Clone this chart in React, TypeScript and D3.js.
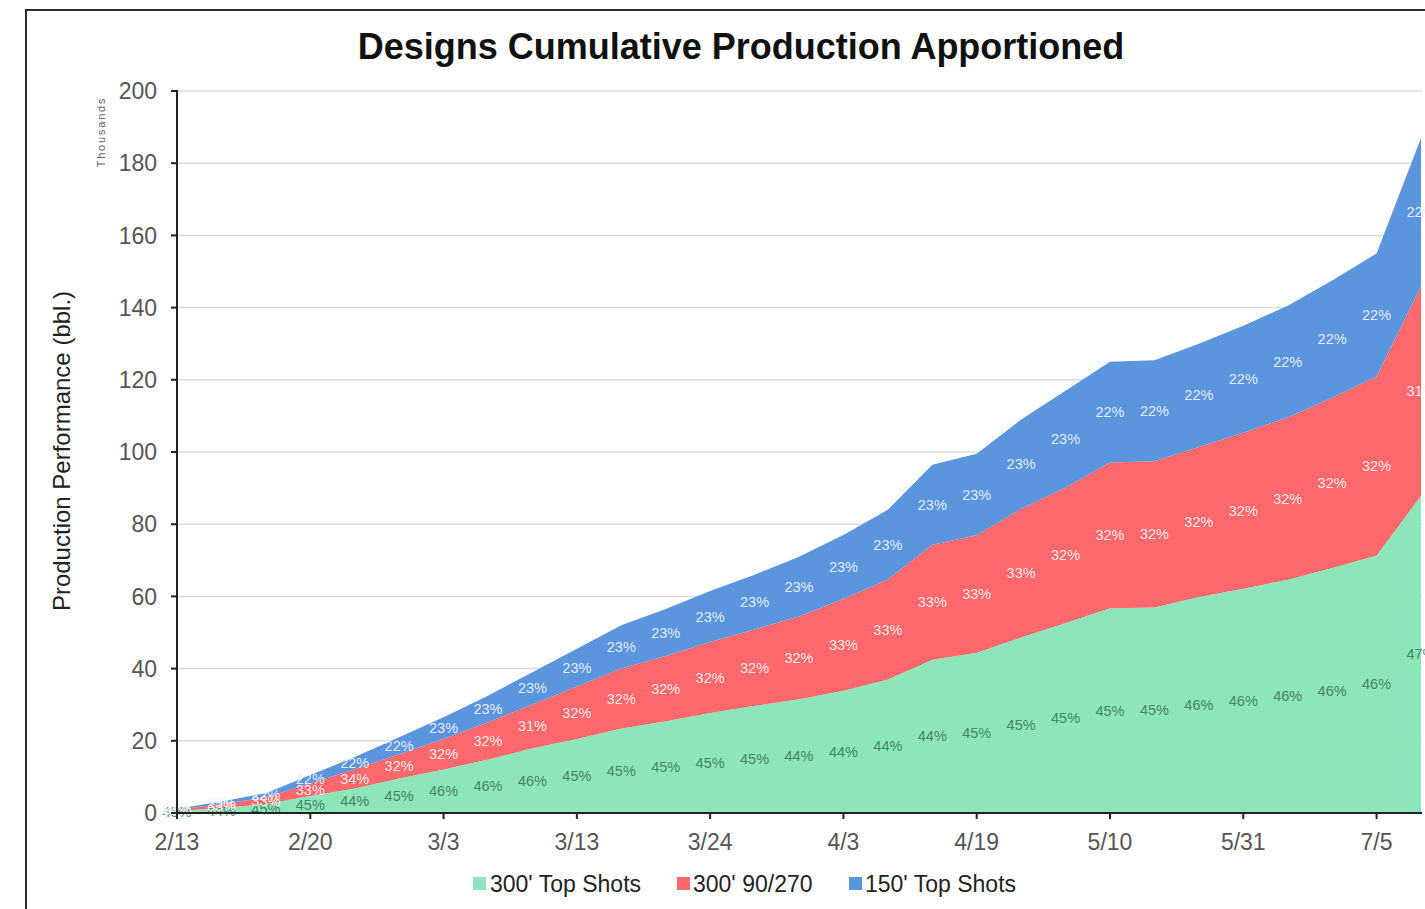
import React from "react";
import * as d3 from "d3";

// Cumulative production (bbl) per design, one reading per interval
const topShots300: number[] = [540, 1408, 2475, 4725, 6820, 9534, 12084, 14820, 17940, 20475, 23400, 25425, 27675, 29700, 31524, 33880, 36960, 42460, 44377, 48614, 52650, 56750, 56932, 59800, 62100, 64630, 67850, 71300, 87890];
const ninety270: number[] = [372, 1056, 1815, 3465, 5270, 6762, 8427, 10335, 12090, 14560, 16640, 18080, 19680, 21120, 22933, 25410, 27720, 31845, 32537, 35643, 37440, 40375, 40504, 41600, 43200, 44960, 47200, 49600, 57970];
const topShots150: number[] = [288, 736, 1210, 2310, 3410, 4704, 5989, 7345, 8970, 10465, 11960, 12995, 14145, 15180, 16543, 17710, 19320, 22195, 22586, 24743, 26910, 27875, 27964, 28600, 29700, 30910, 32450, 34100, 41140];

const tickLabels: string[] = ["2/13", "2/20", "3/3", "3/13", "3/24", "4/3", "4/19", "5/10", "5/31", "7/5"];
const tickEvery = 3;
const yTicks: number[] = [0, 20, 40, 60, 80, 100, 120, 140, 160, 180, 200];

const seriesNames = ["300' Top Shots", "300' 90/270", "150' Top Shots"];
const seriesKeys = ["a", "b", "c"];
const fills = ["#8de6b9", "#fd686c", "#5b95dd"];
const labelColors = ["#3f7d5e", "#fff2f2", "#eef4ff"];

const W = 1425;
const H = 909;
const left = 177;
const right = 1421;
const top = 91;
const bottom = 813;

export default function App() {
  const rows = topShots300.map((v, i) => ({
    i,
    a: v / 1000,
    b: ninety270[i] / 1000,
    c: topShots150[i] / 1000,
  }));
  const stacked = d3.stack<any>().keys(seriesKeys)(rows);

  const x = d3.scaleLinear().domain([0, rows.length - 1]).range([left, right]);
  const y = d3.scaleLinear().domain([0, 200]).range([bottom, top]);

  const area = d3
    .area<any>()
    .x((d: any) => x(d.data.i))
    .y0((d: any) => y(d[0]))
    .y1((d: any) => y(d[1]));

  const font = "Arial, 'Liberation Sans', Helvetica, sans-serif";

  return (
    <svg
      width={W}
      height={H}
      style={{ position: "absolute", left: 0, top: 0, background: "#fff" }}
      fontFamily={font}
    >
      <rect x={26} y={10} width={W} height={H} fill="#fff" stroke="#2b2b2b" strokeWidth={2} />

      <text x={741} y={59} textAnchor="middle" fontSize={36} fontWeight="bold" fill="#111">
        Designs Cumulative Production Apportioned
      </text>

      {/* gridlines */}
      {yTicks.map((t) => (
        <line key={"g" + t} x1={left} x2={right + 1} y1={y(t)} y2={y(t)} stroke="#dcdcdc" strokeWidth={1.5} />
      ))}

      {/* stacked areas */}
      {stacked.map((s, k) => (
        <path key={s.key} d={area(s as any) || ""} fill={fills[k]} />
      ))}

      {/* share labels centred in each band */}
      {stacked.map((s, k) =>
        s.map((d: any, i: number) => {
          const total = rows[i].a + rows[i].b + rows[i].c;
          const pct = Math.round(((d[1] - d[0]) / total) * 100);
          return (
            <text
              key={s.key + i}
              x={x(i)}
              y={y((d[0] + d[1]) / 2)}
              dy="0.35em"
              textAnchor="middle"
              fontSize={14.5}
              fill={labelColors[k]}
              opacity={0.92}
            >
              {pct}%
            </text>
          );
        })
      )}

      {/* y axis */}
      <line x1={left} x2={left} y1={top - 1} y2={bottom + 1} stroke="#222" strokeWidth={2} />
      {yTicks.map((t) => (
        <g key={"y" + t}>
          <line x1={left - 6} x2={left} y1={y(t)} y2={y(t)} stroke="#222" strokeWidth={2} />
          <text x={157} y={y(t)} dy="0.36em" textAnchor="end" fontSize={23} fill="#555">
            {t}
          </text>
        </g>
      ))}

      {/* x axis */}
      <line x1={left - 1} x2={right + 1} y1={bottom} y2={bottom} stroke="#222" strokeWidth={2} />
      {tickLabels.map((lab, j) => {
        const xi = x(j * tickEvery);
        return (
          <g key={lab}>
            <line x1={xi} x2={xi} y1={bottom} y2={bottom + 6} stroke="#222" strokeWidth={2} />
            <text x={xi} y={850} textAnchor="middle" fontSize={23} fill="#555">
              {lab}
            </text>
          </g>
        );
      })}

      {/* axis titles */}
      <text
        transform={`translate(70,451) rotate(-90)`}
        textAnchor="middle"
        fontSize={24}
        fill="#222"
      >
        Production Performance (bbl.)
      </text>
      <text
        transform={`translate(105,132) rotate(-90)`}
        textAnchor="middle"
        fontSize={11}
        letterSpacing={1.8}
        fill="#666"
      >
        Thousands
      </text>

      {/* legend */}
      {[
        { x: 473, tx: 490 },
        { x: 677, tx: 693 },
        { x: 849, tx: 865 },
      ].map((p, k) => (
        <g key={"l" + k}>
          <rect x={p.x} y={877} width={13} height={13} fill={fills[k]} />
          <text x={p.tx} y={892} fontSize={23} fill="#222">
            {seriesNames[k]}
          </text>
        </g>
      ))}
    </svg>
  );
}
